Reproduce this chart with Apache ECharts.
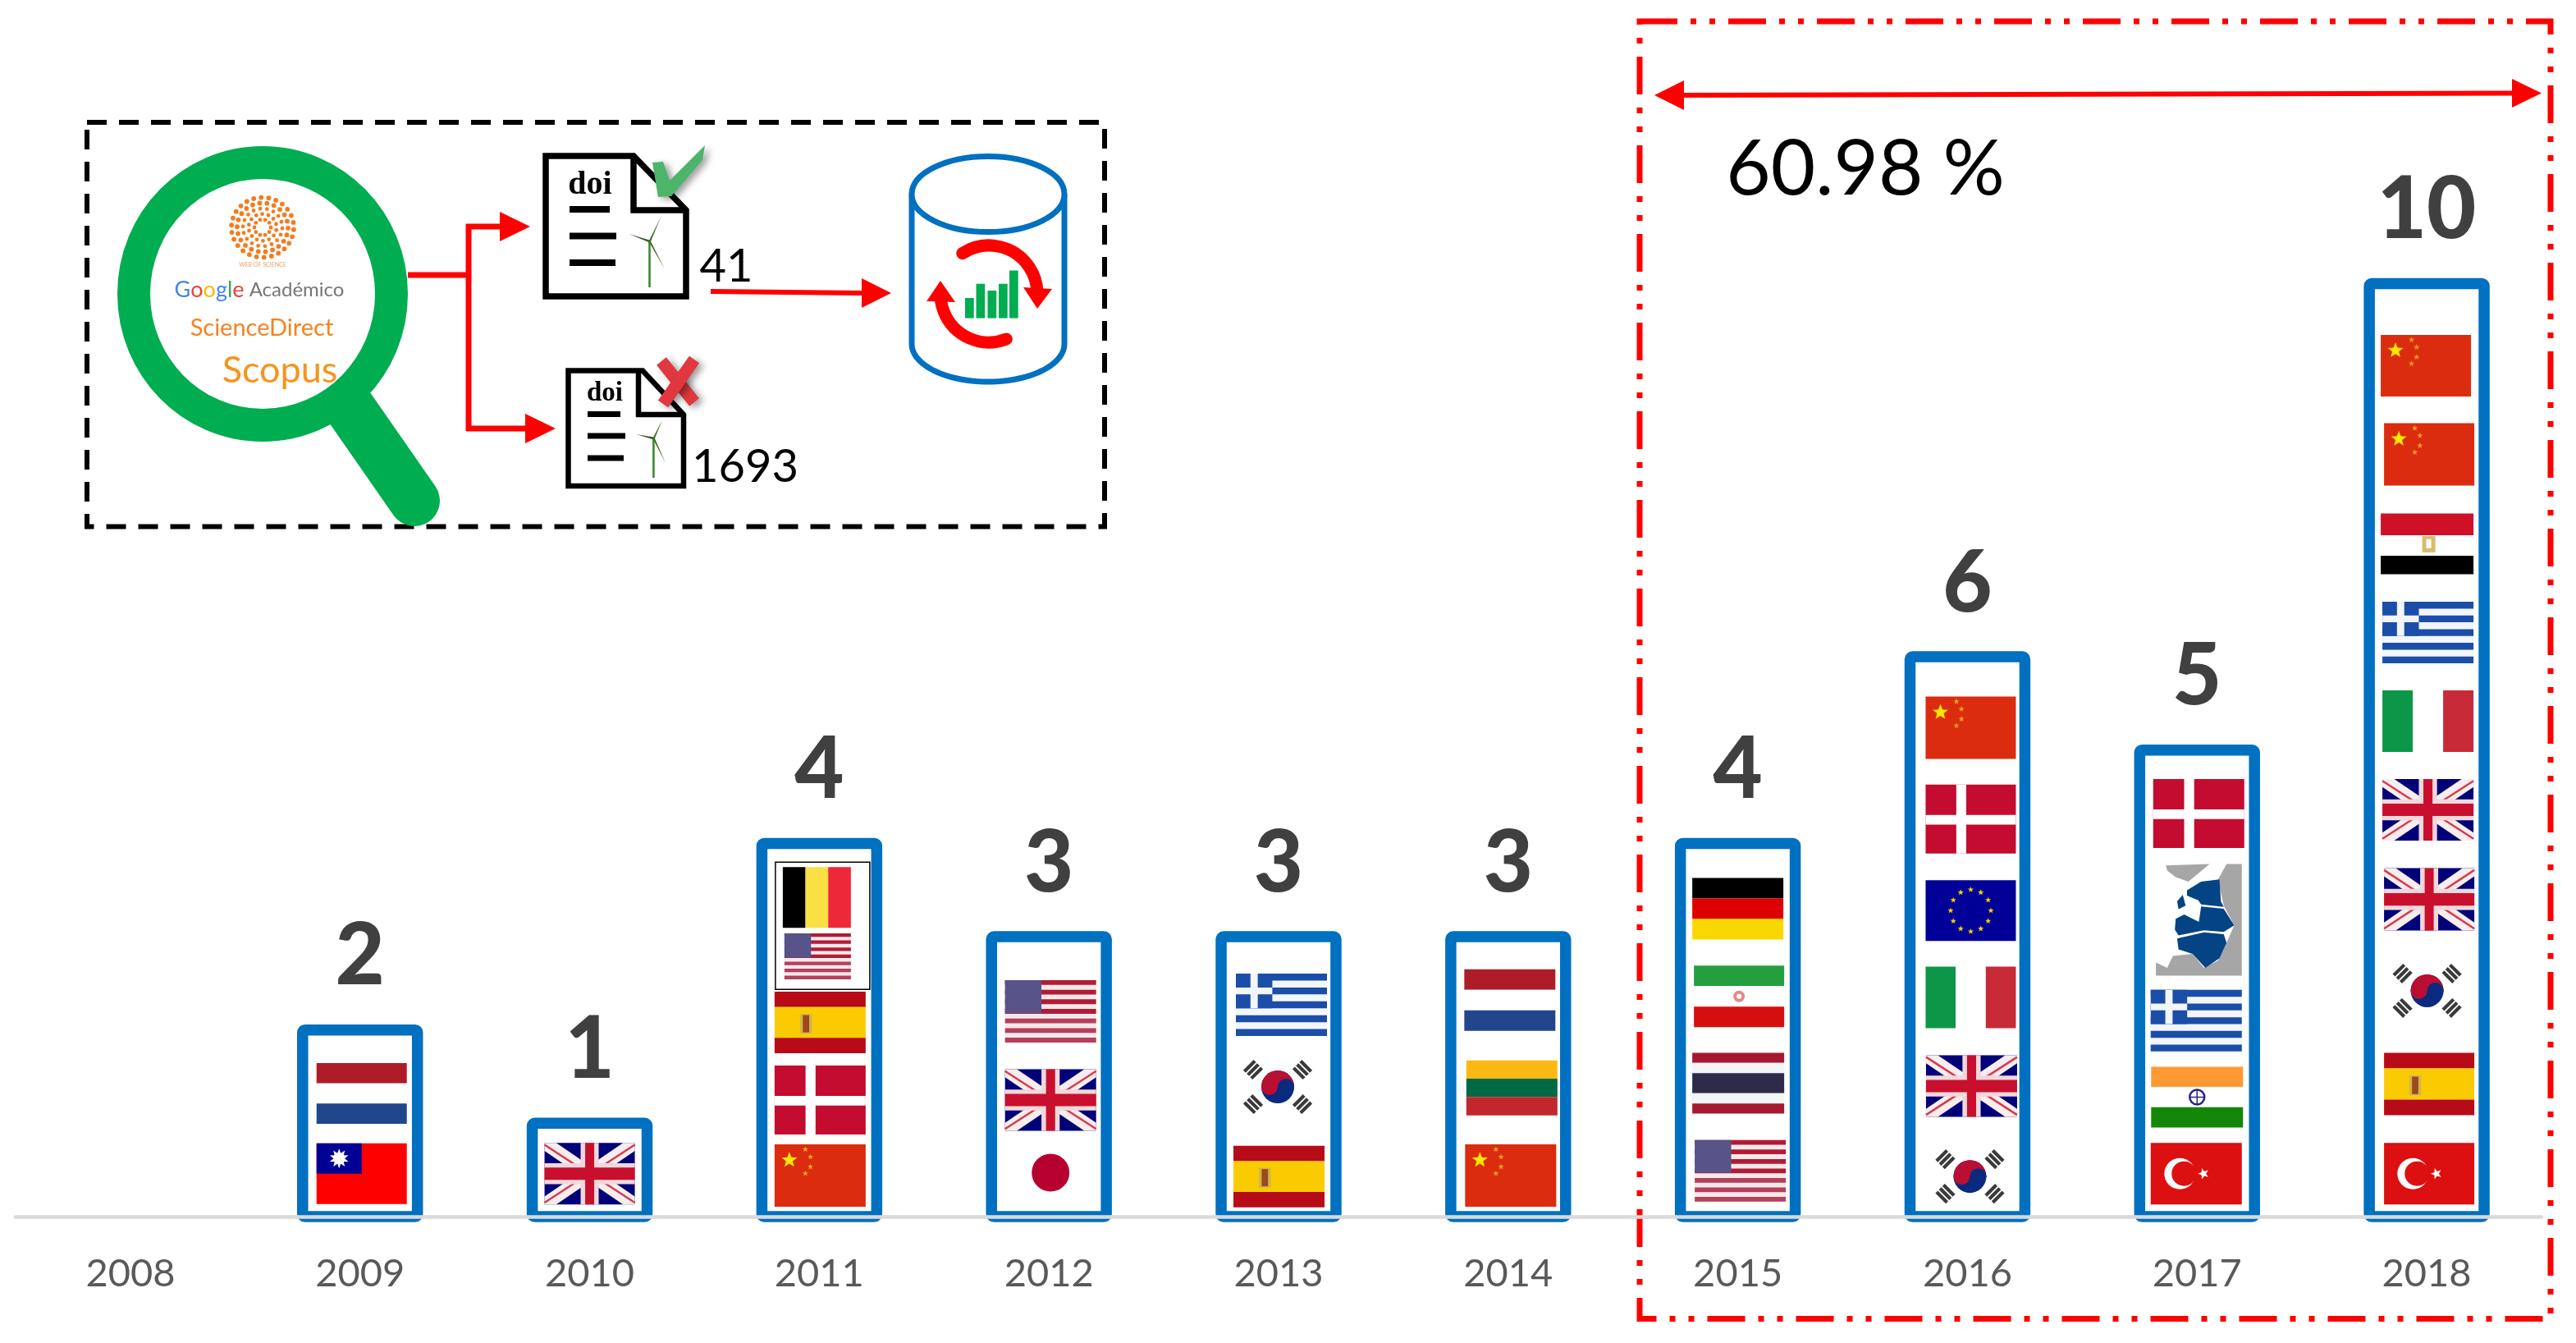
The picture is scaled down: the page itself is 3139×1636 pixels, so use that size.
<!DOCTYPE html>
<html>
<head>
<meta charset="utf-8">
<style>html,body{margin:0;padding:0;background:#fff}#c{width:3139px;height:1636px}</style>
<script src="https://cdn.jsdelivr.net/npm/echarts@6/dist/echarts.min.js"></script>
</head>
<body>
<div id="c"></div>
<script>
// ---------- data ----------
const years = ['2008','2009','2010','2011','2012','2013','2014','2015','2016','2017','2018'];
const counts = [null,2,1,4,3,3,3,4,6,5,10];
// countries of each year's articles, top of the bar to bottom
const flags2008 = [];
const flags2009 = ['Netherlands','Taiwan'];
const flags2010 = ['UK'];
const flags2011 = ['Belgium','USA','Spain','Denmark','China'];
const flags2012 = ['USA','UK','Japan'];
const flags2013 = ['Greece','Korea','Spain'];
const flags2014 = ['Netherlands','Lithuania','China'];
const flags2015 = ['Germany','Iran','Thailand','USA'];
const flags2016 = ['China','Denmark','EU','Italy','UK','Korea'];
const flags2017 = ['Denmark','Baltic','Greece','India','Turkey'];
const flags2018 = ['China','China','Egypt','Greece','Italy','UK','UK','Korea','Spain','Turkey'];
const flagsByYear = [flags2008,flags2009,flags2010,flags2011,flags2012,flags2013,flags2014,flags2015,flags2016,flags2017,flags2018];
const docsKept = '41';
const docsRejected = '1693';
const recentShare = '60.98 %';

// ---------- layout of the flags: [height in axis units, px shift, width, height] ----------
const flagSpots = [
 [],
 [[1.32,2,110,74],[.46,2,110,74]],
 [[.46,0,110,75]],
 [[3.42,-3,83,74],[2.79,-2,81,56],[2.08,1,111,75],[1.25,1,111,84],[.44,1,111,76]],
 [[2.20,2,111,76],[1.25,2,111,75],[.47,2,111,75]],
 [[2.27,3.5,111,76],[1.39,-1,111,75],[.43,.5,111,75]],
 [[2.32,2,111,75],[1.38,4.5,111,67],[.44,3,111,76]],
 [[3.30,0,111,75],[2.36,1.5,110,75],[1.43,.5,112,74],[.49,3,111,75]],
 [[5.24,4,110,76],[4.26,4,110,84],[3.28,4,110,74],[2.35,4,110,75],[1.40,5,111,75],[.43,3,111,75]],
 [[4.32,2,111,84],[3.18,2,105,136],[2.10,-1,111,75],[1.28,0,112,74],[.46,-1,111,75]],
 [[9.12,-1,110,75],[8.17,3,110,76],[7.21,.5,113,74],[6.26,1.5,111,75],[5.31,1.5,111,75],[4.36,1.5,111,75],[3.40,3,110,76],[2.42,.5,111,75],[1.42,3,110,76],[.46,3,110,75]]
];

// ---------- little drawing helpers ----------
const R=(x,y,w,h,c)=>({type:'rect',shape:{x,y,width:w,height:h},style:{fill:c}});
const P=(pts,c,extra)=>({type:'polygon',shape:{points:pts},style:Object.assign({fill:c},extra||{})});
const C=(x,y,r,c)=>({type:'circle',shape:{cx:x,cy:y,r},style:{fill:c}});
const L=(x1,y1,x2,y2,c,w,extra)=>({type:'line',shape:{x1,y1,x2,y2},style:Object.assign({stroke:c,lineWidth:w,fill:null},extra||{})});
function starPts(cx,cy,r,rot){
  const a=[];
  for(let i=0;i<10;i++){
    const rr=i%2?r*.42:r, t=-Math.PI/2+(rot||0)+i*Math.PI/5;
    a.push([cx+rr*Math.cos(t),cy+rr*Math.sin(t)]);
  }
  return a;
}
const S=(cx,cy,r,c,rot)=>P(starPts(cx,cy,r,rot),c);
const hBands=(w,h,list)=>{let y=0,tot=list.reduce((s,b)=>s+b[0],0);return list.map(b=>{const e=R(0,y,w,h*b[0]/tot,b[1]);y+=h*b[0]/tot;return e;});};
const vBands=(w,h,list)=>{let x=0,tot=list.reduce((s,b)=>s+b[0],0);return list.map(b=>{const e=R(x,0,w*b[0]/tot,h,b[1]);x+=w*b[0]/tot;return e;});};

const flagDraw = {
  Netherlands:(w,h)=>hBands(w,h,[[1,'#AE1C28'],[1,'#FFFFFF'],[1,'#21468B']]),
  Taiwan:(w,h)=>{
    const o=[R(0,0,w,h,'#FE0000'),R(0,0,w*.5,h*.5,'#000095')];
    o.push(S(w*.25,h*.25,12,'#fff'),S(w*.25,h*.25,12,'#fff',.63),C(w*.25,h*.25,7,'#fff'));
    return o;
  },
  UK:(w,h)=>{
    const a=w*.13,b=h*.13, rd='#C8102E', wh='#F6EDEE';
    return [R(0,0,w,h,'#000078'),
      P([[0,0],[a,0],[w,h-b],[w,h],[w-a,h],[0,b]],wh),
      P([[w,0],[w-a,0],[0,h-b],[0,h],[a,h],[w,b]],wh),
      L(0,h*.03,w*.46,h*.47,'#D93A4C',2.5),L(w*.54,h*.53,w,h*.97,'#D93A4C',2.5),
      L(w,h*.03,w*.54,h*.47,'#D93A4C',2.5),L(w*.46,h*.53,0,h*.97,'#D93A4C',2.5),
      R(w*.40,0,w*.2,h,'#F0D8DC'),R(0,h*.33,w,h*.34,'#F0D8DC'),
      R(w*.45,0,w*.1,h,rd),R(0,h*.4,w,h*.2,rd)];
  },
  Belgium:(w,h)=>vBands(w,h,[[1,'#000000'],[1,'#FAE042'],[1,'#ED2939']]),
  USA:(w,h)=>{
    const o=[R(0,0,w,h,'#F5E8EA')];
    for(let i=0;i<13;i+=2){o.push(R(0,h*i/13,w,h/13,i>6?'#B4405A':'#B01C36'));}
    o.push(R(0,0,w*.4,h*.53,'#585389'));
    return o;
  },
  Spain:(w,h)=>{
    const o=hBands(w,h,[[1,'#B80B18'],[2,'#F9CB00'],[1,'#B80B18']]);
    o.push(R(w*.28,h*.36,w*.13,h*.32,'#D6B24A'),R(w*.31,h*.38,w*.07,h*.28,'#9A4A1E'));
    return o;
  },
  Denmark:(w,h)=>[R(0,0,w,h,'#C30C30'),R(w*.34,0,w*.11,h,'#fff'),R(0,h*.44,w,h*.14,'#fff')],
  China:(w,h)=>{
    const sy=h/75;
    return [R(0,0,w,h,'#DB2C0F'),
      S(18,19*sy,10,'#FFE600'),S(37.5,6*sy,3.8,'#F0A020'),S(43.7,15*sy,3.8,'#F0A020'),
      S(43.7,27*sy,3.8,'#F0A020'),S(37.5,35*sy,3.8,'#F0A020')];
  },
  Japan:(w,h)=>[R(0,0,w,h,'#fff'),C(w/2,h/2,23,'#B80030')],
  Greece:(w,h)=>{
    const b='#1B4EA8', o=[R(0,0,w,h,'#F2F5FA')];
    for(let i=0;i<9;i+=2){o.push(R(0,h*i/9,w,h/9,b));}
    o.push(R(0,0,w*.4,h*5/9,b),R(w*.16,0,w*.08,h*5/9,'#F2F5FA'),R(0,h*2/9,w*.4,h/9,'#F2F5FA'));
    return o;
  },
  Korea:(w,h)=>{
    const cx=w/2,cy=h/2,o=[R(0,0,w,h,'#fff')];
    [[-1,-1],[1,-1],[-1,1],[1,1]].forEach(s=>{
      const px=cx+s[0]*30,py=cy+s[1]*21, ux=s[0]*.707,uy=s[1]*.707, nx=-uy,ny=ux;
      [-6,0,6].forEach(k=>o.push(L(px+ux*k-nx*9,py+uy*k-ny*9,px+ux*k+nx*9,py+uy*k+ny*9,'#3A3A3A',4.2)));
    });
    o.push(C(cx,cy,20,'#0A2A80'));
    o.push({type:'sector',shape:{cx,cy,r0:0,r:20,startAngle:Math.PI,endAngle:Math.PI*2,clockwise:true},style:{fill:'#B80F32'}});
    o.push(C(cx-10,cy,10,'#B80F32'),C(cx+10,cy,10,'#0A2A80'));
    return o;
  },
  Lithuania:(w,h)=>hBands(w,h,[[1,'#FDB913'],[1,'#006A44'],[1,'#C1272D']]),
  Germany:(w,h)=>hBands(w,h,[[1,'#000000'],[1,'#DD0000'],[1,'#F9D800']]),
  Iran:(w,h)=>{
    const o=hBands(w,h,[[1,'#239F40'],[1,'#FFFFFF'],[1,'#D50F0F']]);
    o.push(C(w/2,h/2,7,'#E08A8A'),C(w/2,h/2,3,'#fff'));
    return o;
  },
  Thailand:(w,h)=>hBands(w,h,[[1,'#A51931'],[1,'#F4F5F8'],[2,'#2D2A4A'],[1,'#F4F5F8'],[1,'#A51931']]),
  EU:(w,h)=>{
    const o=[R(0,0,w,h,'#000099')];
    for(let i=0;i<12;i++){const t=i*Math.PI/6;o.push(S(w/2+24.5*Math.cos(t),h/2+25.5*Math.sin(t),3.8,'#FFCC00'));}
    return o;
  },
  Italy:(w,h)=>vBands(w,h,[[1,'#0D9647'],[1,'#FFFFFF'],[1,'#C82A37']]),
  Baltic:(w,h)=>{
    const m=(a)=>a.map(p=>[(p[0]-79)/305*w,(p[1]-475)/255*h]);
    return [R(0,0,w,h,'#fff'),
      P(m([[115,478],[270,475],[195,515],[150,505],[120,490]]),'#A6A6A6'),
      P(m([[330,475],[384,475],[384,730],[80,730],[80,700],[120,712],[140,685],[210,680],[250,712],[300,695],[330,655],[357,615],[320,570],[300,510]]),'#A6A6A6'),
      P(m([[190,535],[240,515],[305,510],[310,560],[320,573],[240,567],[230,558],[190,547]]),'#044484'),
      P(m([[150,600],[180,590],[232,607],[240,572],[320,577],[357,615],[320,630],[250,626],[160,638],[147,625]]),'#044484'),
      P(m([[155,645],[250,631],[320,635],[330,655],[305,690],[255,712],[210,680],[160,670]]),'#044484'),
      P(m([[155,560],[175,545],[185,570],[160,578]]),'#044484')];
  },
  India:(w,h)=>{
    const o=hBands(w,h,[[1,'#FF9A33'],[1,'#FFFFFF'],[1,'#138808']]);
    o.push({type:'circle',shape:{cx:w/2,cy:h/2,r:9},style:{fill:'#fff',stroke:'#26267F',lineWidth:2.5}});
    o.push(L(w/2-9,h/2,w/2+9,h/2,'#26267F',1.5),L(w/2,h/2-9,w/2,h/2+9,'#26267F',1.5));
    return o;
  },
  Turkey:(w,h)=>[R(0,0,w,h,'#DC1010'),C(w*.32,h/2,19,'#fff'),C(w*.32+5,h/2,15,'#DC1010'),S(w*.58,h/2,7,'#fff',-Math.PI/2)],
  Egypt:(w,h)=>{
    const o=hBands(w,h,[[1.05,'#CE1126'],[1,'#FFFFFF'],[.9,'#000000']]);
    o.push(R(w/2-6,h*.37,16,h*.27,'#D9BC70'),R(w/2-1,h*.42,6,h*.15,'#fff'));
    return o;
  }
};

// ---------- flag marks, one item per flag ----------
const flagItems = [];
flagsByYear.forEach((list,yi)=>list.forEach((name,i)=>{
  const s=flagSpots[yi][i];
  flagItems.push({yi,name,v:s[0],dx:s[1],w:s[2],h:s[3]});
}));

// ---------- inset (literature search diagram) ----------
const red='#FF0000', black='#000000', blue='#0070C0', green='#00AD50';
const g=[];
function add(e){e.silent=true;g.push(e);return e;}
function stroke(type,shape,st){return add({type,shape,style:Object.assign({fill:null},st)});}

// dashed frame around the inset
stroke('rect',{x:106,y:149,width:1240,height:492.5},{stroke:black,lineWidth:6,lineDash:[24,15]});

// magnifier
add(L(425,495,505,610,green,62,{lineCap:'round'}));
add({type:'ellipse',shape:{cx:320,cy:358,rx:157,ry:160},style:{fill:'#fff',stroke:green,lineWidth:40}});

// Web of Science mark
[[10,10],[17,14],[24,18],[31,22],[38,26]].forEach((rg,ri)=>{
  for(let i=0;i<rg[1];i++){
    const t=i*2*Math.PI/rg[1]+ri*.2;
    add(C(320+rg[0]*Math.cos(t),277+rg[0]*Math.sin(t)*.96,ri>2?2.9:2.4,'#F47B20'));
  }
});
function T(text,x,y,size,color,extra){
  return add({type:'text',x,y,style:Object.assign({text,fontSize:size,fill:color,fontFamily:'Lato',align:'center',verticalAlign:'middle'},extra||{})});
}
T('WEB OF SCIENCE',320,323,7,'#E9A366');
const gl=(c)=>({fill:c,fontSize:27,fontFamily:'Lato'});
add({type:'text',x:316,y:353,style:{text:'{a|G}{b|o}{c|o}{a|g}{d|l}{b|e}{k| Académico}',align:'center',verticalAlign:'middle',fontFamily:'Lato',fontSize:27,
  rich:{a:gl('#4285F4'),b:gl('#EA4335'),c:gl('#FBBC05'),d:gl('#34A853'),k:{fill:'#757575',fontSize:24,fontFamily:'Lato'}}}});
T('ScienceDirect',319,400,29,'#F58220');
T('Scopus',341,451,45,'#F7941D');

// red connectors
add(L(497,335,571,335,red,7));
add(L(571,273,571,525,red,7));
add(L(568,276,610,276,red,7));
add(P([[609,258],[646,276],[609,294]],red));
add(L(568,522,641,522,red,7));
add(P([[640,504],[677,522],[640,540]],red));
add(L(866,355,1050,357,red,6));
add(P([[1050,339],[1086,357],[1050,375]],red));

// turbine icon
function turbine(hx,hy,up,left,down,bottom){
  add(L(hx,hy,hx,bottom,'#3C8A2E',2.6));
  add(P([[hx-1,hy],[up[0],up[1]],[hx+1.5,hy]],'#3F6B24'));
  add(P([[hx,hy-1.5],[left[0],left[1]],[hx,hy+1.5]],'#3F5B2C'));
  add(P([[hx-1,hy],[down[0],down[1]],[hx+1.5,hy]],'#3F6B24'));
}
// document icons
function doc(pts,foldA,foldB,foldC,lw){
  add({type:'polygon',shape:{points:pts},style:{fill:'#fff',stroke:black,lineWidth:lw,lineJoin:'miter'}});
  stroke('polyline',{points:[foldA,foldB,foldC]},{stroke:black,lineWidth:lw});
}
doc([[665,190],[772,190],[836,256],[836,361],[665,361]],[772,190],[772,256],[836,256],7.5);
T('doi',719,226,40,black,{fontFamily:'Liberation Serif',fontWeight:'bold'});
add(L(694,255,743,255,black,8)); add(L(694,287.5,751,287.5,black,8)); add(L(694,320,750,320,black,8));
turbine(791.5,294,[805.5,264],[766.5,285],[810,328],350);

doc([[692.5,451.5],[783,451.5],[833,505],[833,592],[692.5,592]],[778,451.5],[778,505],[833,505],6.5);
T('doi',737,479,33,black,{fontFamily:'Liberation Serif',fontWeight:'bold'});
add(L(716,504.5,756,504.5,black,7)); add(L(716,531,762,531,black,7)); add(L(716,558,760,558,black,7));
turbine(796.4,534,[807,512],[775,529],[811,564],582);

// approved / rejected marks
const shadow={shadowBlur:9,shadowColor:'rgba(0,0,0,.4)',shadowOffsetX:5,shadowOffsetY:3};
add(P([[795,198],[808,197],[816,220],[859,177],[856,195],[818,239],[802,240]],'#4DB56A',shadow));
add(L(806,440,846,490,'#E0383E',15,shadow));
add(L(846,438,808,492,'#E0383E',15,shadow));

T(docsKept,885,325,56,black);
T(docsRejected,908,569,56,black);

// database cylinder
(function(){
  const cx=1204,rx=93,ry=46,cyTop=236.5,cyBot=419,pts=[];
  pts.push([cx-rx,cyTop]);
  for(let i=0;i<=60;i++){const t=Math.PI-i*Math.PI/60;pts.push([cx+rx*Math.cos(t),cyBot+ry*Math.sin(t)]);}
  pts.push([cx+rx,cyTop]);
  stroke('polyline',{points:pts},{stroke:blue,lineWidth:7});
  add({type:'ellipse',shape:{cx,cy:cyTop,rx,ry},style:{fill:'#fff',stroke:blue,lineWidth:7}});
})();
[[1176,363],[1189.5,345.7],[1203.5,354],[1217,345.7],[1230,329.5]].forEach(b=>add(R(b[0],b[1],10.7,387.6-b[1],green)));
stroke('arc',{cx:1205,cy:358,r:59,startAngle:-2.15,endAngle:-.03,clockwise:true},{stroke:red,lineWidth:15,lineCap:'round'});
stroke('arc',{cx:1205,cy:358,r:59,startAngle:1.2,endAngle:Math.PI,clockwise:true},{stroke:red,lineWidth:15,lineCap:'round'});
add(P([[1247,350],[1282,352],[1264,376]],red));
add(P([[1129,367],[1164,368],[1146,342]],red));

// red dash-dot-dot frame and span arrow
stroke('rect',{x:1998,y:26,width:1110,height:1580.5},{stroke:red,lineWidth:7,lineDash:[46,16,7,16,7,16]});
add(L(2045,116,3065,113.5,red,6));
add(P([[2052,98],[2016,116],[2052,134]],red));
add(P([[3061,96],[3097,113.5],[3061,131]],red));
T(recentShare,2273,207,94,black);

// ---------- chart ----------
const chart = echarts.init(document.getElementById('c'),null,{renderer:'canvas'});
chart.setOption({
  animation:false,
  backgroundColor:'#fff',
  grid:{left:19,right:42,top:118.2,bottom:154},
  xAxis:{type:'category',data:years,z:6,
    axisLine:{show:true,lineStyle:{color:'#D9D9D9',width:4.5}},
    axisTick:{show:false},
    axisLabel:{interval:0,margin:46,fontSize:47,fontFamily:'Lato',color:'#595959'}},
  yAxis:{type:'value',min:0,max:12,show:false,splitLine:{show:false}},
  graphic:{elements:g},
  series:[
    {type:'custom',name:'Articles',z:3,coordinateSystem:'cartesian2d',clip:false,
      data:counts.map((c,i)=>[i,c]),
      encode:{x:0,y:1},
      renderItem:function(params,api){
        const val=api.value(1);
        if(val==null||isNaN(val)) return null;
        const top=api.coord([api.value(0),val]);
        const base=api.coord([api.value(0),0]);
        const w=api.size([1,0])[0]*.5;
        return {type:'group',children:[
          {type:'rect',shape:{x:top[0]-w/2,y:top[1],width:w,height:base[1]-top[1],r:3},
            style:{fill:'#FFFFFF',stroke:blue,lineWidth:13.5,lineJoin:'round'}},
          {type:'text',x:top[0],y:top[1]-7-30,
            style:{text:String(val),fontSize:104,fontWeight:900,fontFamily:'Lato',fill:'#404040',align:'center',verticalAlign:'bottom'}}
        ]};
      }},
    {type:'custom',name:'Countries',z:4,coordinateSystem:'cartesian2d',clip:false,
      data:flagItems.map(f=>[f.yi,f.v]),
      encode:{x:0,y:1},
      renderItem:function(params,api){
        const f=flagItems[params.dataIndex];
        const c=api.coord([api.value(0),api.value(1)]);
        const children=flagDraw[f.name](f.w,f.h);
        const out={type:'group',x:c[0]+f.dx-f.w/2,y:c[1]-f.h/2,children};
        if(f.yi===3 && f.name==='Belgium'){
          children.push({type:'rect',shape:{x:-9,y:-6,width:115,height:155},style:{fill:null,stroke:'#000',lineWidth:1.5}});
        }
        return out;
      }}
  ]
});
</script>
</body>
</html>
